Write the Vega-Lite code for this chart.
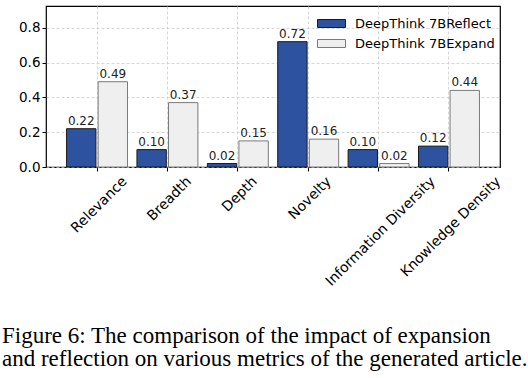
{
  "$schema": "https://vega.github.io/schema/vega-lite/v6.json",
  "width": 454,
  "height": 161,
  "autosize": {"type": "none"},
  "padding": {"left": 46, "top": 6, "right": 28, "bottom": 211},
  "background": "white",
  "config": {
    "view": {"stroke": "#000000", "strokeWidth": 1.2},
    "font": "DejaVu Sans",
    "axis": {"labelFont": "DejaVu Sans"},
    "legend": {"labelFont": "DejaVu Sans"},
    "text": {"font": "DejaVu Sans"}
  },
  "title": {
    "text": ["Figure 6: The comparison of the impact of expansion", "and reflection on various metrics of the generated article."],
    "orient": "bottom",
    "anchor": "start",
    "frame": "group",
    "font": "Liberation Serif",
    "fontSize": 23,
    "fontWeight": "normal",
    "lineHeight": 23,
    "color": "#000000",
    "dx": -44,
    "offset": 37
  },
  "data": {
    "values": [
      {"metric": "Relevance", "model": "DeepThink 7BReflect", "value": 0.22},
      {"metric": "Relevance", "model": "DeepThink 7BExpand", "value": 0.49},
      {"metric": "Breadth", "model": "DeepThink 7BReflect", "value": 0.10},
      {"metric": "Breadth", "model": "DeepThink 7BExpand", "value": 0.37},
      {"metric": "Depth", "model": "DeepThink 7BReflect", "value": 0.02},
      {"metric": "Depth", "model": "DeepThink 7BExpand", "value": 0.15},
      {"metric": "Novelty", "model": "DeepThink 7BReflect", "value": 0.72},
      {"metric": "Novelty", "model": "DeepThink 7BExpand", "value": 0.16},
      {"metric": "Information Diversity", "model": "DeepThink 7BReflect", "value": 0.10},
      {"metric": "Information Diversity", "model": "DeepThink 7BExpand", "value": 0.02},
      {"metric": "Knowledge Density", "model": "DeepThink 7BReflect", "value": 0.12},
      {"metric": "Knowledge Density", "model": "DeepThink 7BExpand", "value": 0.44}
    ]
  },
  "encoding": {
    "x": {
      "field": "metric",
      "type": "nominal",
      "sort": ["Relevance", "Breadth", "Depth", "Novelty", "Information Diversity", "Knowledge Density"],
      "scale": {"paddingInner": 0.134, "paddingOuter": 0.292},
      "axis": {
        "title": null,
        "bandPosition": 0.5,
        "domain": false,
        "grid": true,
        "gridColor": "#cccccc",
        "gridDash": [3, 2],
        "gridWidth": 0.8,
        "ticks": true,
        "tickSize": 4,
        "tickColor": "#000000",
        "labelAngle": -45,
        "labelAlign": "right",
        "labelBaseline": "top",
        "labelPadding": 3,
        "labelOffset": {
          "condition": [
            {"test": "datum.value === 'Relevance'", "value": 22.9},
            {"test": "datum.value === 'Breadth'", "value": 16.8},
            {"test": "datum.value === 'Depth'", "value": 12.1},
            {"test": "datum.value === 'Novelty'", "value": 16.0},
            {"test": "datum.value === 'Information Diversity'", "value": 49.4},
            {"test": "datum.value === 'Knowledge Density'", "value": 44.7}
          ],
          "value": 0
        },
        "labelFont": "DejaVu Sans",
        "labelFontSize": 14,
        "labelColor": "#000000",
        "labelOverlap": false,
        "labelBound": false,
        "labelLimit": 300
      }
    },
    "xOffset": {
      "field": "model",
      "type": "nominal",
      "sort": ["DeepThink 7BReflect", "DeepThink 7BExpand"],
      "scale": {"paddingInner": 0.07}
    },
    "y": {
      "field": "value",
      "type": "quantitative",
      "scale": {"domain": [0, 0.925], "nice": false, "zero": true},
      "axis": {
        "title": null,
        "values": [0, 0.2, 0.4, 0.6, 0.8],
        "format": ".1f",
        "domain": false,
        "grid": true,
        "gridColor": "#cccccc",
        "gridDash": [3, 2],
        "gridWidth": 0.8,
        "tickSize": 4,
        "tickColor": "#000000",
        "labelPadding": 2,
        "labelFont": "DejaVu Sans",
        "labelFontSize": 13.5,
        "labelColor": "#000000"
      }
    }
  },
  "layer": [
    {
      "mark": {"type": "bar", "strokeWidth": 1},
      "encoding": {
        "fill": {
          "field": "model",
          "type": "nominal",
          "scale": {"domain": ["DeepThink 7BReflect", "DeepThink 7BExpand"], "range": ["#2d52a0", "#efefef"]},
          "legend": {
            "title": null,
            "orient": "none",
            "legendX": 279,
            "legendY": 11,
            "symbolType": "M-3.5,-1H3.5V1H-3.5Z",
            "symbolSize": 64,
            "symbolStrokeWidth": 1,
            "labelOffset": 17,
            "labelFont": "DejaVu Sans",
            "labelFontSize": 13,
            "labelColor": "#000000",
            "rowPadding": 6,
            "labelLimit": 300
          }
        },
        "stroke": {
          "field": "model",
          "type": "nominal",
          "scale": {"domain": ["DeepThink 7BReflect", "DeepThink 7BExpand"], "range": ["#1a1a1a", "#7a7a7a"]},
          "legend": {
            "title": null,
            "orient": "none",
            "legendX": 279,
            "legendY": 11,
            "symbolType": "M-3.5,-1H3.5V1H-3.5Z",
            "symbolSize": 64,
            "symbolStrokeWidth": 1,
            "labelOffset": 17,
            "labelFont": "DejaVu Sans",
            "labelFontSize": 13,
            "labelColor": "#000000",
            "rowPadding": 6,
            "labelLimit": 300
          }
        }
      }
    },
    {
      "mark": {"type": "text", "baseline": "bottom", "dy": -1, "fontSize": 12, "font": "DejaVu Sans", "color": "#222222"},
      "encoding": {
        "text": {"field": "value", "type": "quantitative", "format": ".2f"}
      }
    }
  ]
}
